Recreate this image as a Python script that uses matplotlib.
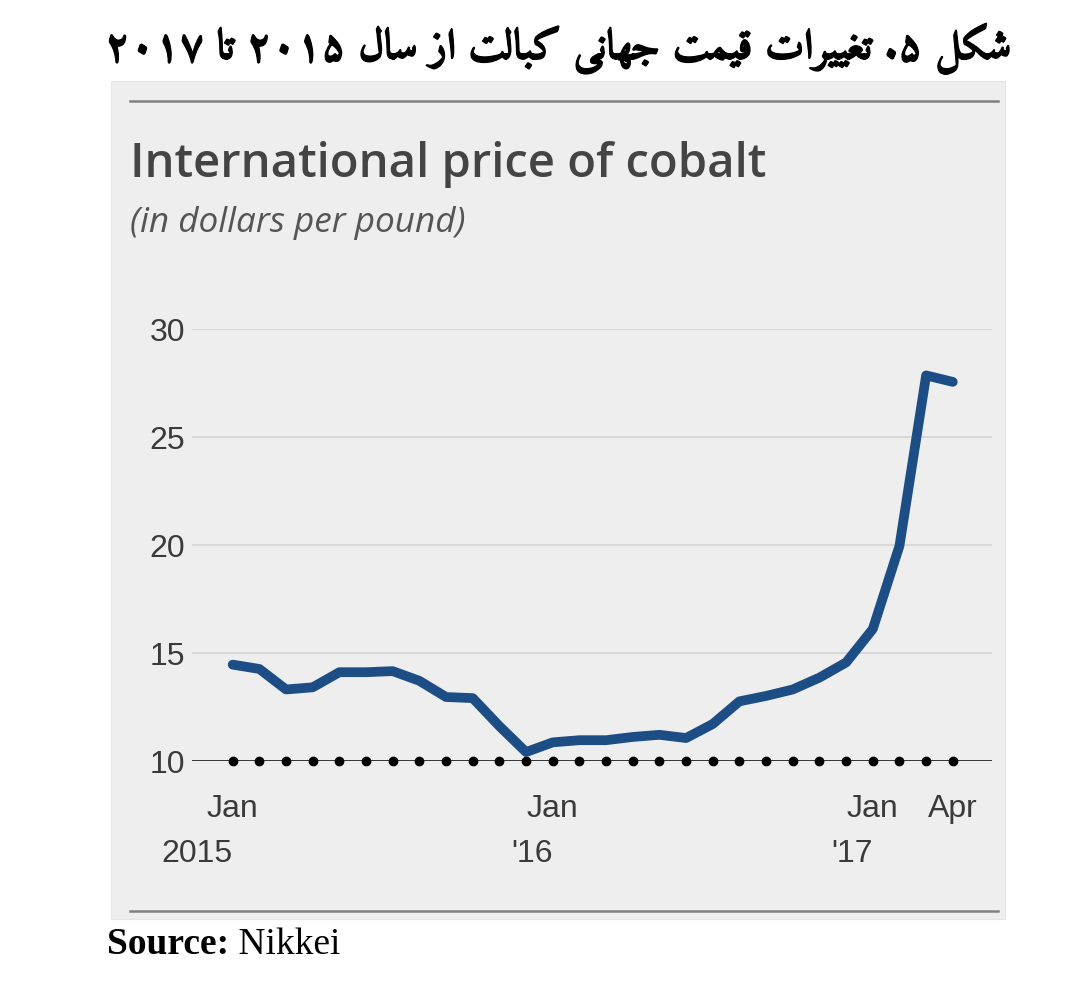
import re
import matplotlib
matplotlib.use("Agg")
import matplotlib.pyplot as plt
from matplotlib import font_manager as fm
from matplotlib.ft2font import FT2Font
from matplotlib.patches import Rectangle
from matplotlib.lines import Line2D
import matplotlib.transforms as mtransforms
import matplotlib.patheffects as pe

# ---------------- data ----------------
months = ["2015-01", "2015-02", "2015-03", "2015-04", "2015-05", "2015-06",
          "2015-07", "2015-08", "2015-09", "2015-10", "2015-11", "2015-12",
          "2016-01", "2016-02", "2016-03", "2016-04", "2016-05", "2016-06",
          "2016-07", "2016-08", "2016-09", "2016-10", "2016-11", "2016-12",
          "2017-01", "2017-02", "2017-03", "2017-04"]
price = [14.45, 14.25, 13.3, 13.4, 14.1, 14.1, 14.15, 13.7, 12.95, 12.9, 11.6, 10.4,
         10.85, 10.95, 10.95, 11.1, 11.2, 11.05, 11.7, 12.75, 13.0, 13.3, 13.85, 14.55,
         16.1, 19.95, 27.85, 27.55]
yticks = [10, 15, 20, 25, 30]
month_labels = {0: "Jan", 12: "Jan", 24: "Jan", 27: "Apr"}
year_labels = {0: "2015", 12: "'16", 24: "'17"}

persian_title = "شکل ۵. تغییرات قیمت جهانی کبالت از سال ۲۰۱۵ تا ۲۰۱۷"
chart_title = "International price of cobalt"
chart_subtitle = "(in dollars per pound)"
source_bold = "Source:"
source_text = " Nikkei"

# ---------------- Arabic shaping (presentation forms + visual order) ----------------
FORMS = {
    '\u0627': ('\uFE8D', '\uFE8E', None, None),
    '\u0628': ('\uFE8F', '\uFE90', '\uFE91', '\uFE92'),
    '\u062A': ('\uFE95', '\uFE96', '\uFE97', '\uFE98'),
    '\u062C': ('\uFE9D', '\uFE9E', '\uFE9F', '\uFEA0'),
    '\u0631': ('\uFEAD', '\uFEAE', None, None),
    '\u0632': ('\uFEAF', '\uFEB0', None, None),
    '\u0633': ('\uFEB1', '\uFEB2', '\uFEB3', '\uFEB4'),
    '\u0634': ('\uFEB5', '\uFEB6', '\uFEB7', '\uFEB8'),
    '\u063A': ('\uFECD', '\uFECE', '\uFECF', '\uFED0'),
    '\u0642': ('\uFED5', '\uFED6', '\uFED7', '\uFED8'),
    '\u0644': ('\uFEDD', '\uFEDE', '\uFEDF', '\uFEE0'),
    '\u0645': ('\uFEE1', '\uFEE2', '\uFEE3', '\uFEE4'),
    '\u0646': ('\uFEE5', '\uFEE6', '\uFEE7', '\uFEE8'),
    '\u0647': ('\uFEE9', '\uFEEA', '\uFEEB', '\uFEEC'),
    '\u06A9': ('\uFB8E', '\uFB8F', '\uFB90', '\uFB91'),
    '\u06CC': ('\uFBFC', '\uFBFD', '\uFBFE', '\uFBFF'),
}
RIGHT_ONLY = set('\u0627\u062F\u0630\u0631\u0632\u0648\u0698\u0622')


def shape_rtl(text):
    out = []
    n = len(text)
    for i, ch in enumerate(text):
        if ch not in FORMS:
            out.append(ch)
            continue
        prev = text[i - 1] if i > 0 else ''
        nxt = text[i + 1] if i + 1 < n else ''
        con_prev = prev in FORMS and prev not in RIGHT_ONLY
        con_next = ch not in RIGHT_ONLY and nxt in FORMS
        iso, fin, ini, med = FORMS[ch]
        if con_prev and con_next:
            g = med
        elif con_prev:
            g = fin
        elif con_next:
            g = ini
        else:
            g = iso
        out.append(g)
    s = ''.join(out)[::-1]
    s = re.sub(r'[\u06F0-\u06F90-9]+', lambda m: m.group(0)[::-1], s)
    return s


def pick_font(sample, preferred):
    need = {ord(c) for c in sample if c not in ' .'}
    found = {}
    for f in fm.fontManager.ttflist:
        w = f.weight
        if isinstance(w, str):
            w = {'bold': 700, 'heavy': 800, 'black': 900}.get(w.lower(), 400)
        if f.name in preferred and w >= 700 and f.style == 'normal':
            try:
                cmap = FT2Font(f.fname).get_charmap()
            except Exception:
                continue
            if need.issubset(cmap.keys()):
                found.setdefault(f.name, f.fname)
    for name in preferred:
        if name in found:
            return found[name]
    return None


shaped_title = shape_rtl(persian_title)
fa_font = pick_font(shaped_title, ['Amiri', 'IBM Plex Sans Arabic', 'DejaVu Sans'])
fa_prop = fm.FontProperties(fname=fa_font) if fa_font else fm.FontProperties(family='DejaVu Sans', weight='bold')

# ---------------- figure ----------------
W, H = 1080, 1003
fig = plt.figure(figsize=(W / 100, H / 100), dpi=100)
fig.patch.set_facecolor('white')


def fx(px):
    return px / W


def fy(py):
    return 1 - py / H


# grey panel
fig.patches.append(Rectangle((fx(111), fy(920)), fx(1005) - fx(111), fy(82) - fy(920),
                             transform=fig.transFigure, facecolor='#eeeeee',
                             edgecolor='#e6e6e6', lw=0.8, zorder=-10))
# top & bottom rules
for yy in (102, 912):
    fig.lines.append(Line2D([fx(130), fx(998)], [fy(yy), fy(yy)], transform=fig.transFigure,
                            color='#808080', lw=1.8, zorder=-5))

# Persian title
fig.text(fx(558), fy(50), shaped_title, fontproperties=fa_prop, fontsize=30.5,
         ha='center', va='center', color='black',
         path_effects=[pe.withStroke(linewidth=0.9, foreground='black')])

# chart title and subtitle
fig.text(fx(130), fy(177), chart_title, family=['Open Sans', 'DejaVu Sans'], weight='semibold',
         fontsize=34, color='#444444', ha='left', va='baseline')
fig.text(fx(130), fy(232), chart_subtitle, family=['Open Sans', 'DejaVu Sans'], style='italic',
         fontsize=25.3, color='#555555', ha='left', va='baseline')

# source line
src = fig.text(fx(107), fy(954), source_bold, family=['Liberation Serif', 'DejaVu Serif'],
               weight='bold', fontsize=27, color='black', ha='left', va='baseline')

# axes
ax_left, ax_right = 192, 992
ax_top, ax_bot = 330, 761.7
ax = fig.add_axes([fx(ax_left), fy(ax_bot), fx(ax_right) - fx(ax_left), fy(ax_top) - fy(ax_bot)])
ax.set_facecolor('none')
ax.set_zorder(2)
x = list(range(len(months)))
step = 26.67
ax.set_xlim((ax_left - 232.7) / step, (ax_right - 232.7) / step)
ax.set_ylim(10, 30)
for s in ax.spines.values():
    s.set_visible(False)

for v in yticks[1:]:
    ax.axhline(v, color='#d8d8d8', lw=1.5, zorder=1)
ax.axhline(10, color='black', lw=1.8, zorder=2)

ax.plot(x, price, color='#1c4d85', lw=7, solid_capstyle='round', solid_joinstyle='round',
        zorder=3, clip_on=False)
ax.plot(x, [10] * len(x), 'o', color='black', ms=6, zorder=4, clip_on=False)

ax.set_yticks(yticks)
ax.set_yticklabels([str(v) for v in yticks], family=['Liberation Sans', 'DejaVu Sans'],
                   fontsize=23, color='#3a3a3a')
ax.tick_params(axis='y', length=0, pad=5)
ax.set_xticks([])

trans = mtransforms.blended_transform_factory(ax.transData, ax.transAxes)
axh = ax_bot - ax_top
for i, lab in month_labels.items():
    ax.text(i, -(817 - ax_bot) / axh, lab, transform=trans, ha='center', va='baseline',
            family=['Liberation Sans', 'DejaVu Sans'], fontsize=23, color='#3a3a3a')
for i, lab in year_labels.items():
    ax.text(i, -(862 - ax_bot) / axh, lab, transform=trans, ha='right', va='baseline',
            family=['Liberation Sans', 'DejaVu Sans'], fontsize=23, color='#3a3a3a')

ax.annotate(source_text, xy=(1, 0), xycoords=src, ha='left', va='bottom',
            family=['Liberation Serif', 'DejaVu Serif'], fontsize=27, color='black',
            annotation_clip=False)

fig.savefig('out.png', dpi=100, facecolor='white')
